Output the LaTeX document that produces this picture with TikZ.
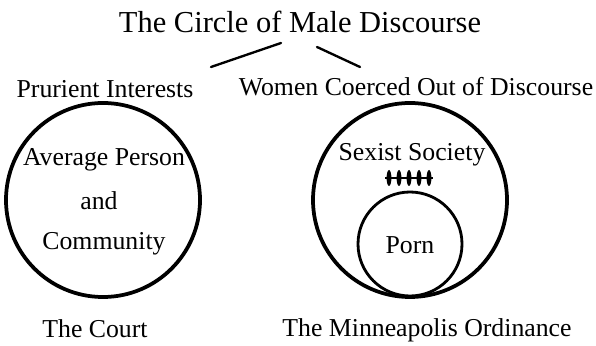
\documentclass[tikz,border=0pt]{standalone}
\usepackage{fontspec}
\setmainfont{Liberation Serif}
\usetikzlibrary{positioning}
\tikzset{
  lbl/.style={inner sep=0pt, font=\fontsize{22}{26}\selectfont},
  ttl/.style={inner sep=0pt, font=\fontsize{26}{30}\selectfont},
  ring/.style={draw, line width=3.2pt},
  inring/.style={draw, line width=2.4pt},
  link/.style={line width=2pt, line cap=round}
}
\begin{document}
\begin{tikzpicture}[x=0.03cm, y=-0.03cm]
  \useasboundingbox (0,0) rectangle (596,346);
  % Title and branches
  \node[ttl] (title) at (300,22) {The Circle of Male Discourse};
  \coordinate (lA) at (211,67);
  \coordinate (lB) at (281,43);
  \coordinate (rA) at (317,47);
  \coordinate (rB) at (360,67);
  \draw[link] (lA) -- (lB);
  \draw[link] (rA) -- (rB);
  \node[lbl] (prurient) at (105,89) {Prurient Interests};
  \node[lbl] (coerced) at (416,87) {Women Coerced Out of Discourse};

  % The Court
  \draw[ring] (103,200) circle (97);
  \node[lbl] (avg) at (104,160) {Average Person};
  \node[lbl] (and) at (99,201) {and};
  \node[lbl] (comm) at (104,244) {Community};
  \node[lbl] (court) at (95,329) {The Court};

  % The Minneapolis Ordinance
  \draw[ring] (410,200) circle (97);
  \node[lbl] (sexist) at (412,155) {Sexist Society};
  \draw[line width=1.2pt] (385,178) -- (433,178);
  \foreach \hx in {389,399,409,419,429}
    \fill (\hx,178) ellipse (2.4 and 8);
  \draw[inring] (410,244) circle (52);
  \node[lbl] (porn) at (410,245) {Porn};
  \node[lbl] (ordin) at (427,330) {The Minneapolis Ordinance};
\end{tikzpicture}
\end{document}
